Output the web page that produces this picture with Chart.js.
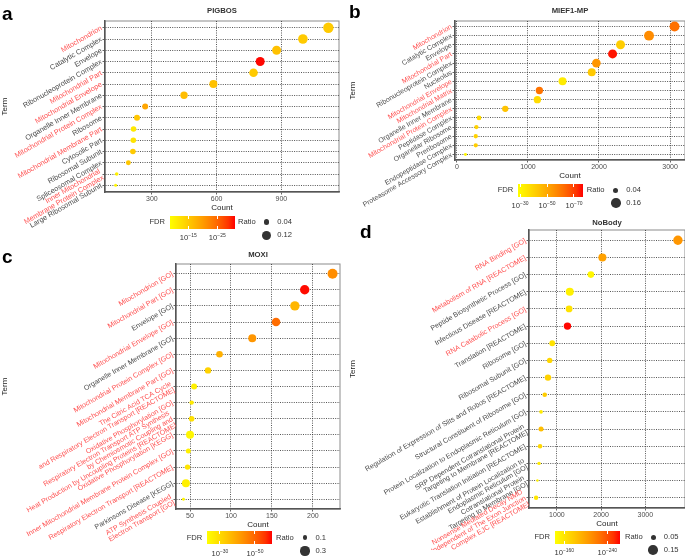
<!DOCTYPE html>
<html>
<head>
<meta charset="utf-8">
<script src="https://cdn.jsdelivr.net/npm/chart.js@4.4.0/dist/chart.umd.min.js"></script>
<style>
body { margin: 0; background: #fff; }
#fig { position: relative; width: 685px; height: 560px; overflow: hidden; font-family: 'Liberation Sans', Arial, sans-serif; }
#fig canvas { position: absolute; }
.lt { position: absolute; font-weight: bold; font-size: 19px; line-height: 19px; color: #000; }
.ttl { position: absolute; font-weight: bold; font-size: 7.7px; line-height: 10px; text-align: center; color: #333; }
.lg { position: absolute; font-size: 7.6px; line-height: 10px; color: #333; white-space: nowrap; }
.bar { position: absolute; width: 65px; height: 13px; }
.tk { position: absolute; width: 1px; height: 3px; background: #fff; }
.dot { position: absolute; border-radius: 50%; background: #333; }
.sp { position: relative; top: -3px; font-size: 5px; }
</style>
</head>
<body>
<div id="fig"></div>
<script>
const RED = '#ff5252';
const GREY = '#4d4d4d';
const FONT = "'Liberation Sans', Arial, sans-serif";
Chart.defaults.font.family = FONT;

// a: PIGBOS
const termsA = ['Mitochondrion', 'Catalytic Complex', 'Envelope', 'Ribonucleoprotein Complex',
  'Mitochondrial Part', 'Mitochondrial Envelope', 'Organelle Inner Membrane',
  'Mitochondrial Protein Complex', 'Ribosome', 'Mitochondrial Membrane Part', 'Cytosolic Part',
  'Ribosomal Subunit', 'Spliceosomal Complex', ['Inner Mitochondrial', 'Membrane Protein Complex'],
  'Large Ribosomal Subunit'];
const redA = [1, 0, 0, 0, 1, 1, 0, 1, 0, 1, 0, 0, 0, 1, 0];
const countA = [1118, 1000, 878, 802, 771, 585, 449, 269, 231, 215, 214, 212, 191, 137, 132];
const fdrA = [-15, -15, -16, -31, -15, -16, -16.5, -19, -15.5, -11.5, -12, -15, -15.5, -10.5, -10];
const ratioA = [0.162, 0.137, 0.12, 0.12, 0.109, 0.094, 0.079, 0.05, 0.05, 0.043, 0.043, 0.043, 0.033, 0.015, 0.009];
const xTicksA = [300, 600, 900];
const fdrTicksA = [-15, -25];
const fdrLimA = [-8.7, -31.1];
const ratioBreaksA = [0.04, 0.12];

// b: MIEF1-MP
const termsB = ['Mitochondrion', 'Catalytic Complex', 'Envelope', 'Mitochondrial Part',
  'Ribonucleoprotein Complex', 'Nucleolus', 'Mitochondrial Envelope', 'Mitochondrial Matrix',
  'Organelle Inner Membrane', 'Mitochondrial Protein Complex', 'Peptidase Complex',
  'Organellar Ribosome', 'Preribosome', 'Endopeptidase Complex', 'Proteasome Accessory Complex'];
const redB = [1, 0, 0, 1, 0, 0, 1, 1, 0, 1, 0, 0, 0, 0, 0];
const countB = [3063, 2704, 2303, 2191, 1963, 1898, 1487, 1161, 1133, 681, 312, 275, 266, 266, 121];
const fdrB = [-62, -56.5, -41.6, -75.5, -54.3, -42.7, -34, -61.5, -38, -44, -38, -40.3, -40.3, -41.6, -31];
const ratioB = [0.167, 0.167, 0.137, 0.137, 0.128, 0.108, 0.108, 0.089, 0.089, 0.066, 0.035, 0.029, 0.029, 0.029, 0.012];
const xTicksB = [0, 1000, 2000, 3000];
const fdrTicksB = [-30, -50, -70];
const fdrLimB = [-28.7, -76.9];
const ratioBreaksB = [0.04, 0.16];

// c: MOXI
const termsC = ['Mitochondrion [GO]', 'Mitochondrial Part [GO]', 'Envelope [GO]',
  'Mitochondrial Envelope [GO]', 'Organelle Inner Membrane [GO]', 'Mitochondrial Protein Complex [GO]',
  'Mitochondrial Membrane Part [GO]',
  ['The Citric Acid TCA Cycle', 'and Respiratory Electron Transport [REACTOME]'],
  'Oxidative Phosphorylation [GO]',
  ['Respiratory Electron Transport ATP Synthesis', 'by Chemiosmotic Coupling and', 'Heat Production by Uncoupling Proteins [REACTOME]'],
  'Oxidative Phosphorylation [KEGG]', 'Inner Mitochondrial Membrane Protein Complex [GO]',
  'Respiratory Electron Transport [REACTOME]', 'Parkinsons Disease [KEGG]',
  ['ATP Synthesis Coupled', 'Electron Transport [GO]']];
const redC = [1, 1, 0, 1, 0, 1, 1, 1, 1, 1, 1, 1, 1, 0, 1];
const countC = [224, 190, 178, 155, 126, 86, 72, 55, 52, 52, 50, 48, 47, 45, 42];
const fdrC = [-44, -59.5, -37, -49, -42.5, -38, -31.7, -25.8, -27, -29, -24.7, -25.8, -28, -25.8, -24.7];
const ratioC = [0.342, 0.306, 0.306, 0.261, 0.23, 0.167, 0.159, 0.143, 0.091, 0.129, 0.23, 0.109, 0.122, 0.23, 0.059];
const xTicksC = [50, 100, 150, 200];
const fdrTicksC = [-30, -50];
const fdrLimC = [-22.8, -59.9];
const ratioBreaksC = [0.1, 0.3];

// d: NoBody
const termsD = ['RNA Binding [GO]', 'Metabolism of RNA [REACTOME]', 'Peptide Biosynthetic Process [GO]',
  'Infectious Disease [REACTOME]', 'RNA Catabolic Process [GO]', 'Translation [REACTOME]',
  'Ribosome [GO]', 'Ribosomal Subunit [GO]', 'Regulation of Expression of Slits and Robos [REACTOME]',
  'Structural Constituent of Ribosome [GO]', 'Protein Localization to Endoplasmic Reticulum [GO]',
  ['SRP Dependent Cotranslational Protein', 'Targeting to Membrane [REACTOME]'],
  'Eukaryotic Translation Initiation [REACTOME]',
  ['Establishment of Protein Localization to', 'Endoplasmic Reticulum [GO]'],
  ['Cotranslational Protein', 'Targeting to Membrane [GO]'],
  ['Nonsense Mediated Decay NMD', 'Independent of The Exon Junction', 'Complex EJC [REACTOME]']];
const redD = [1, 1, 0, 0, 1, 0, 0, 0, 0, 0, 0, 0, 0, 0, 0, 1];
const countD = [3736, 2029, 1768, 1291, 1276, 1239, 895, 837, 799, 725, 642, 642, 620, 597, 560, 530];
const fdrD = [-207, -201, -149, -152, -162, -263, -162, -169, -172, -175, -156, -184, -169, -156, -152, -159];
const ratioD = [0.142, 0.107, 0.077, 0.107, 0.081, 0.093, 0.063, 0.056, 0.073, 0.044, 0.033, 0.05, 0.044, 0.031, 0.022, 0.042];
const xTicksD = [1000, 2000, 3000];
const fdrTicksD = [-160, -240];
const fdrLimD = [-142.7, -263.6];
const ratioBreaksD = [0.05, 0.15];

// layout of the four panels (page pixels)
const panels = [
  { tag: 'a', title: 'PIGBOS', terms: termsA, red: redA, count: countA, fdr: fdrA, ratio: ratioA,
    xTicks: xTicksA, fdrTicks: fdrTicksA, fdrLim: fdrLimA, breaks: ratioBreaksA, breakPx: [2.7, 4.5],
    box: [0, 0, 345, 232], area: [105, 21, 339, 192], font: 7.3, termPad: 0, titleY: 11, letter: [2, 4],
    leg: { y: 222, barX: 170, ratioX: 238, dotX: 266.7 } },
  { tag: 'b', title: 'MIEF1-MP', terms: termsB, red: redB, count: countB, fdr: fdrB, ratio: ratioB,
    xTicks: xTicksB, fdrTicks: fdrTicksB, fdrLim: fdrLimB, breaks: ratioBreaksB, breakPx: [2.5, 4.85],
    box: [340, 0, 345, 212], area: [455, 21, 685, 160], font: 7, termPad: 8.2, titleY: 11, letter: [349, 2],
    leg: { y: 190, barX: 518.3, ratioX: 586.7, dotX: 615.7 } },
  { tag: 'c', title: 'MOXI', terms: termsC, red: redC, count: countC, fdr: fdrC, ratio: ratioC,
    xTicks: xTicksC, fdrTicks: fdrTicksC, fdrLim: fdrLimC, breaks: ratioBreaksC, breakPx: [2.35, 4.65],
    box: [0, 240, 345, 302], area: [176, 264, 340, 509], font: 7.1, termPad: 0, titleY: 255, letter: [2, 247],
    leg: { y: 537.7, barX: 207.3, ratioX: 276, dotX: 305 } },
  { tag: 'd', title: 'NoBody', terms: termsD, red: redD, count: countD, fdr: fdrD, ratio: ratioD,
    xTicks: xTicksD, fdrTicks: fdrTicksD, fdrLim: fdrLimD, breaks: ratioBreaksD, breakPx: [2.5, 4.85],
    box: [340, 215, 345, 335], area: [529, 230, 685, 508], font: 7.1, termPad: 8.2, titleY: 223, letter: [360, 222],
    leg: { y: 537, barX: 555, ratioX: 625, dotX: 653.3 } }
];

// yellow -> red, bent a little so the middle reads orange like ggplot's gradient
function fdrColor(v, lim) {
  let t = (v - lim[0]) / (lim[1] - lim[0]);
  t = Math.min(1, Math.max(0, t));
  const g = Math.round(255 * Math.pow(1 - t, 0.7));
  return 'rgb(255,' + g + ',0)';
}

// point area grows linearly with ratio, pinned to the two legend keys
function sizeFn(breaks, px) {
  const b = (px[1] * px[1] - px[0] * px[0]) / (breaks[1] - breaks[0]);
  const a = px[0] * px[0] - b * breaks[0];
  return r => Math.sqrt(Math.max(0.5, a + b * r));
}

const frame = {
  id: 'frame',
  beforeDraw(chart) {
    const { ctx, chartArea: a } = chart;
    ctx.save();
    ctx.strokeStyle = '#8c8c8c';
    ctx.lineWidth = 1;
    ctx.strokeRect(a.left, a.top, a.right - a.left, a.bottom - a.top);
    ctx.restore();
  }
};

const fig = document.getElementById('fig');

function addDiv(cls, html, css) {
  const d = document.createElement('div');
  d.className = cls;
  d.innerHTML = html;
  Object.assign(d.style, css);
  fig.appendChild(d);
  return d;
}

panels.forEach(p => {
  const [bl, bt, bw, bh] = p.box;
  const [al, at, ar, ab] = p.area;
  const cv = document.createElement('canvas');
  cv.width = bw;
  cv.height = bh;
  cv.style.left = bl + 'px';
  cv.style.top = bt + 'px';
  fig.appendChild(cv);

  const size = sizeFn(p.breaks, p.breakPx);
  const lo = Math.min(...p.count), hi = Math.max(...p.count);
  const pad = (hi - lo) * 0.05;

  const gridOpts = { color: '#2a2a2a', lineWidth: 0.8, tickLength: 2.5, tickColor: '#666', tickWidth: 1 };
  const borderOpts = { color: '#555', width: 1.5, dash: [1, 1.3] };

  new Chart(cv, {
    type: 'bubble',
    data: {
      datasets: [{
        data: p.count.map((c, i) => ({ x: c, y: i, r: size(p.ratio[i]) })),
        backgroundColor: p.fdr.map(v => fdrColor(v, p.fdrLim)),
        borderWidth: 0
      }]
    },
    options: {
      responsive: false,
      animation: false,
      events: [],
      layout: { autoPadding: false, padding: { left: 0, top: at - bt, right: bl + bw - ar, bottom: bt + bh - ab - 21 } },
      plugins: { legend: { display: false }, tooltip: { enabled: false } },
      scales: {
        x: {
          type: 'linear',
          min: lo - pad,
          max: hi + pad,
          afterBuildTicks: s => { s.ticks = p.xTicks.map(v => ({ value: v })); },
          afterFit: s => { s.height = 21; s.paddingLeft = 0; s.paddingRight = 0; },
          ticks: { callback: v => String(v), autoSkip: false, maxRotation: 0, font: { size: 7 }, color: GREY, padding: 0 },
          grid: gridOpts,
          border: borderOpts,
          title: { display: true, text: 'Count', font: { size: 8 }, color: '#222', padding: 0 }
        },
        y: {
          type: 'linear',
          reverse: true,
          min: -0.6,
          max: p.terms.length - 0.4,
          afterBuildTicks: s => { s.ticks = p.terms.map((_, i) => ({ value: i })); },
          afterFit: s => { s.width = al - bl; s.paddingTop = 0; s.paddingBottom = 0; },
          ticks: {
            callback: v => p.terms[v],
            autoSkip: false,
            minRotation: 30,
            maxRotation: 30,
            font: { size: p.font, lineHeight: 1.0 },
            color: c => (p.red[c.index] ? RED : GREY),
            padding: 1
          },
          grid: gridOpts,
          border: borderOpts,
          title: { display: true, text: 'Term', font: { size: 8 }, color: '#222', padding: { top: p.termPad, bottom: 0 } }
        }
      }
    },
    plugins: [frame]
  });

  // panel letter and title
  addDiv('lt', p.tag, { left: p.letter[0] + 'px', top: p.letter[1] + 'px' });
  addDiv('ttl', p.title, { left: al + 'px', width: (ar - al) + 'px', top: (p.titleY - 5) + 'px' });

  // FDR colour bar
  const L = p.leg;
  addDiv('lg', 'FDR', { left: (L.barX - 35) + 'px', width: '30px', textAlign: 'right', top: (L.y - 5) + 'px' });
  const stops = [];
  for (let k = 0; k <= 10; k++) {
    const v = p.fdrLim[0] + (p.fdrLim[1] - p.fdrLim[0]) * k / 10;
    stops.push(fdrColor(v, p.fdrLim) + ' ' + (k * 10) + '%');
  }
  addDiv('bar', '', { left: L.barX + 'px', top: (L.y - 6.5) + 'px', background: 'linear-gradient(to right,' + stops.join(',') + ')' });
  p.fdrTicks.forEach(t => {
    const x = L.barX + (t - p.fdrLim[0]) / (p.fdrLim[1] - p.fdrLim[0]) * 65;
    addDiv('tk', '', { left: (x - 0.5) + 'px', top: (L.y - 6.5) + 'px' });
    addDiv('tk', '', { left: (x - 0.5) + 'px', top: (L.y + 3.5) + 'px' });
    addDiv('lg', '10<span class="sp">\u2212' + Math.abs(t) + '</span>',
      { left: (x - 20) + 'px', width: '40px', textAlign: 'center', top: (L.y + 11) + 'px' });
  });

  // Ratio size keys
  addDiv('lg', 'Ratio', { left: L.ratioX + 'px', top: (L.y - 5) + 'px' });
  p.breaks.forEach((b, k) => {
    const r = size(b);
    const cy = L.y + k * 13.3;
    addDiv('dot', '', { left: (L.dotX - r) + 'px', top: (cy - r) + 'px', width: (2 * r) + 'px', height: (2 * r) + 'px' });
    addDiv('lg', String(b), { left: (L.dotX + 10.5) + 'px', top: (cy - 5) + 'px' });
  });
});
</script>
</body>
</html>
